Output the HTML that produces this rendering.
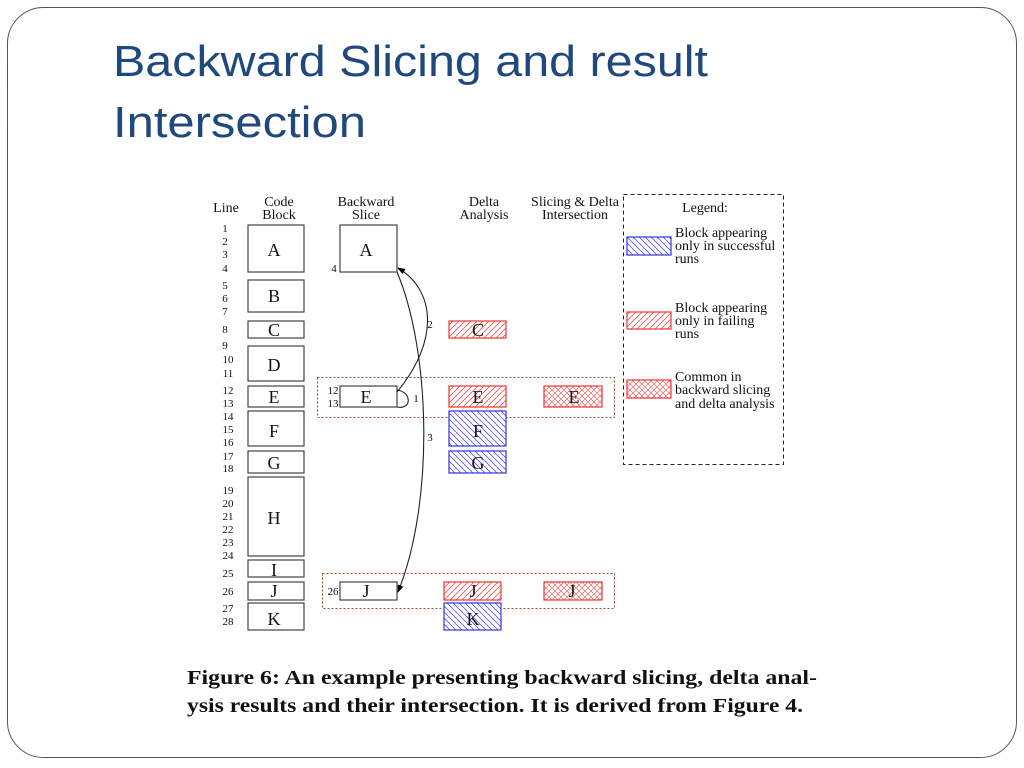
<!DOCTYPE html>
<html><head><meta charset="utf-8"><style>
html,body{margin:0;padding:0;background:#fff;}
svg{display:block}
</style></head><body>
<svg width="1024" height="768" viewBox="0 0 1024 768" xmlns="http://www.w3.org/2000/svg">
<defs>
<pattern id="pb" width="6" height="6" patternUnits="userSpaceOnUse"><rect width="6" height="6" fill="#fff"/><path d="M-1,-1 L7,7 M-4,2 L2,8 M2,-4 L8,2" stroke="#5555ee" stroke-width="0.8"/></pattern>
<pattern id="pr" width="6" height="6" patternUnits="userSpaceOnUse"><rect width="6" height="6" fill="#fff"/><path d="M-1,7 L7,-1 M-4,4 L4,-4 M2,10 L10,2" stroke="#ee5555" stroke-width="0.8"/></pattern>
<pattern id="px" width="6" height="6" patternUnits="userSpaceOnUse"><rect width="6" height="6" fill="#fff"/><path d="M0,0 L6,6 M0,6 L6,0" stroke="#ee6666" stroke-width="0.7"/></pattern>
<marker id="ar" markerWidth="8" markerHeight="8" refX="7" refY="4" orient="auto" markerUnits="userSpaceOnUse"><path d="M0,1 L8,4 L0,7 z" fill="#000"/></marker>
</defs>
<rect x="7.5" y="7.5" width="1009" height="750" rx="36" fill="#fff" stroke="#555" stroke-width="1"/>
<g font-family="Liberation Sans, sans-serif" font-size="44" fill="#1f497d">
<text x="113" y="76" textLength="595" lengthAdjust="spacingAndGlyphs">Backward Slicing and result</text>
<text x="113" y="137" textLength="253" lengthAdjust="spacingAndGlyphs">Intersection</text>
</g>
<g font-family="Liberation Serif, serif" fill="#111">
<g font-size="14" text-anchor="middle">
<text x="226" y="212">Line</text>
<text x="279" y="206">Code</text><text x="279" y="219">Block</text>
<text x="366" y="206">Backward</text><text x="366" y="219">Slice</text>
<text x="484" y="206">Delta</text><text x="484" y="219">Analysis</text>
<text x="575" y="206">Slicing &amp; Delta</text><text x="575" y="219">Intersection</text>
<text x="705" y="212">Legend:</text>
</g>
<g font-size="11" text-anchor="middle">
<text x="225" y="232">1</text><text x="225" y="245">2</text><text x="225" y="258">3</text><text x="225" y="272">4</text>
<text x="225" y="289">5</text><text x="225" y="302">6</text><text x="225" y="315">7</text>
<text x="225" y="333">8</text><text x="225" y="349">9</text><text x="228" y="363">10</text><text x="228" y="377">11</text>
<text x="228" y="394">12</text><text x="228" y="407">13</text><text x="228" y="420">14</text><text x="228" y="433">15</text><text x="228" y="446">16</text>
<text x="228" y="460">17</text><text x="228" y="472">18</text>
<text x="228" y="494">19</text><text x="228" y="507">20</text><text x="228" y="520">21</text><text x="228" y="533">22</text><text x="228" y="546">23</text><text x="228" y="559">24</text>
<text x="228" y="577">25</text><text x="228" y="595">26</text><text x="228" y="612">27</text><text x="228" y="625">28</text>
<text x="334" y="272">4</text><text x="333" y="394">12</text><text x="333" y="407">13</text><text x="333" y="595">26</text>
<text x="430" y="328">2</text><text x="416" y="402">1</text><text x="430" y="441">3</text>
</g>
<g fill="#fff" stroke="#444" stroke-width="1.2">
<rect x="248" y="225" width="56" height="47"/><rect x="248" y="280" width="56" height="32"/>
<rect x="248" y="321" width="56" height="17"/><rect x="248" y="346" width="56" height="35"/>
<rect x="248" y="386" width="56" height="21"/><rect x="248" y="411" width="56" height="35"/>
<rect x="248" y="451" width="56" height="22"/><rect x="248" y="477" width="56" height="79"/>
<rect x="248" y="560" width="56" height="17"/><rect x="248" y="582" width="56" height="18"/>
<rect x="248" y="603" width="56" height="27"/>
<rect x="340" y="225" width="57" height="47"/><rect x="340" y="386" width="57" height="21"/><rect x="340" y="582" width="57" height="18"/>
</g>
<rect x="317.5" y="377.5" width="297" height="40" fill="none" stroke="#a0522d" stroke-width="1" stroke-dasharray="2,2"/>
<rect x="322.5" y="573.5" width="292" height="35" fill="none" stroke="#a0522d" stroke-width="1" stroke-dasharray="2,2"/>
<g stroke-width="1.2">
<rect x="449" y="321" width="57" height="17" fill="url(#pr)" stroke="#e33"/>
<rect x="449" y="386" width="57" height="21" fill="url(#pr)" stroke="#e33"/>
<rect x="449" y="411" width="57" height="35" fill="url(#pb)" stroke="#33d"/>
<rect x="449" y="451" width="57" height="22" fill="url(#pb)" stroke="#33d"/>
<rect x="444" y="582" width="57" height="18" fill="url(#pr)" stroke="#e33"/>
<rect x="444" y="603" width="57" height="27" fill="url(#pb)" stroke="#33d"/>
<rect x="544" y="386" width="58" height="21" fill="url(#px)" stroke="#e33"/>
<rect x="544" y="582" width="58" height="18" fill="url(#px)" stroke="#e33"/>
<rect x="627" y="237" width="44" height="18" fill="url(#pb)" stroke="#33d"/>
<rect x="627" y="312" width="44" height="17" fill="url(#pr)" stroke="#e33"/>
<rect x="627" y="380" width="44" height="18" fill="url(#px)" stroke="#e33"/>
</g>
<rect x="623.5" y="194.5" width="160" height="270" fill="none" stroke="#222" stroke-width="1" stroke-dasharray="4,3"/>
<g font-size="18" text-anchor="middle">
<text x="274" y="256">A</text><text x="274" y="302">B</text><text x="274" y="336">C</text><text x="274" y="371">D</text>
<text x="274" y="403">E</text><text x="274" y="437">F</text><text x="274" y="469">G</text><text x="274" y="524">H</text>
<text x="274" y="576">I</text><text x="274" y="597">J</text><text x="274" y="625">K</text>
<text x="366" y="256">A</text><text x="366" y="403">E</text><text x="366" y="597">J</text>
<text x="478" y="336">C</text><text x="478" y="403">E</text><text x="478" y="437">F</text><text x="478" y="469">G</text>
<text x="473" y="597">J</text><text x="473" y="625">K</text>
<text x="574" y="403">E</text><text x="572" y="597">J</text>
</g>
<g font-size="14">
<text x="675" y="237">Block appearing</text><text x="675" y="250">only in successful</text><text x="675" y="263">runs</text>
<text x="675" y="312">Block appearing</text><text x="675" y="325">only in failing</text><text x="675" y="338">runs</text>
<text x="675" y="381">Common in</text><text x="675" y="394">backward slicing</text><text x="675" y="408">and delta analysis</text>
</g>
<g font-size="20" font-weight="bold">
<text x="187" y="684" textLength="630" lengthAdjust="spacingAndGlyphs">Figure 6: An example presenting backward slicing, delta anal-</text>
<text x="187" y="712" textLength="616" lengthAdjust="spacingAndGlyphs">ysis results and their intersection. It is derived from Figure 4.</text>
</g>
</g>
<g fill="none" stroke="#222" stroke-width="1.1">
<path d="M397,392 C440,340 435,290 398,268" marker-end="url(#ar)"/>
<path d="M397,390 C412,392 412,410 397,407"/>
<path d="M397,272 C430,350 435,500 398,592" marker-end="url(#ar)"/>
</g>
</svg>
</body></html>
